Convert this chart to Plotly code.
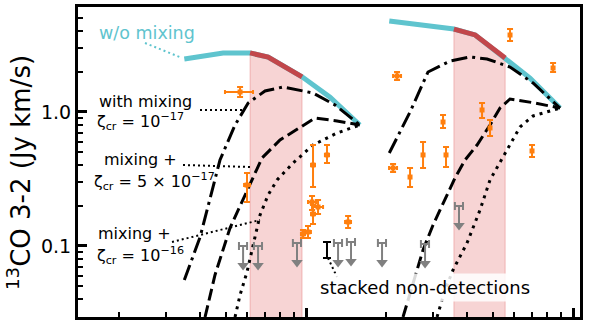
import numpy as np
import plotly.graph_objects as go

# ---------------- data ----------------
# model without mixing (two model sets)
wo_left_x = [0.35, 0.489, 0.617, 0.721, 0.966, 1.23, 1.59]
wo_left_y = [2.49, 2.76, 2.76, 2.57, 1.83, 1.29, 0.80]
wo_right_x = [2.05, 3.58, 4.30, 5.57, 6.90, 8.94]
wo_right_y = [4.78, 4.16, 3.76, 2.53, 1.79, 1.07]

# shaded ranges (x)
band_left = [0.617, 0.966]
band_right = [3.58, 5.57]

# with mixing, zeta_cr = 1e-17 (dash-dot)
mix17_left_x = [0.35, 0.401, 0.476, 0.542, 0.607, 0.702, 0.820, 1.062, 1.284, 1.59]
mix17_left_y = [0.0558, 0.1167, 0.438, 0.800, 1.167, 1.434, 1.537, 1.386, 1.128, 0.80]
mix17_right_x = [2.05, 2.452, 2.863, 3.462, 4.114, 4.764, 5.808, 7.082, 8.94]
mix17_right_y = [0.494, 1.0, 1.988, 2.402, 2.573, 2.487, 2.167, 1.646, 1.07]

# mixing + zeta_cr = 5e-17 (dashed)
mix5_left_x = [0.4185, 0.456, 0.519, 0.601, 0.684, 0.799, 0.950, 1.081, 1.306, 1.59]
mix5_left_y = [0.0295, 0.0608, 0.1362, 0.2618, 0.4536, 0.618, 0.773, 0.902, 0.857, 0.80]
mix5_right_x = [2.308, 2.516, 2.743, 2.990, 3.316, 3.614, 3.940, 4.370, 4.888, 5.329, 5.808, 7.206, 8.94]
mix5_right_y = [0.0295, 0.053, 0.0934, 0.1434, 0.2204, 0.322, 0.438, 0.567, 0.80, 1.071, 1.250, 1.167, 1.07]

# mixing + zeta_cr = 1e-16 (dotted)
mix16_left_x = [0.542, 0.566, 0.601, 0.633, 0.6725, 0.721, 0.779, 0.894, 1.062, 1.306, 1.59]
mix16_left_y = [0.0295, 0.0431, 0.064, 0.1017, 0.1703, 0.2402, 0.311, 0.416, 0.567, 0.697, 0.80]
mix16_right_x = [3.095, 3.316, 3.553, 4.009, 4.484, 4.888, 5.468, 6.330, 7.082, 8.94]
mix16_right_y = [0.0295, 0.047, 0.0662, 0.1053, 0.1857, 0.311, 0.4615, 0.773, 0.934, 1.07]

# detections (orange)
det_x = [0.566, 0.601, 1.062, 1.198, 1.053, 1.109, 1.062, 1.017, 0.974, 1.437,
         2.192, 5.808, 8.419, 3.259, 4.563, 4.888, 7.021, 2.743, 3.344, 2.118, 2.452]
det_y = [1.410, 0.285, 0.402, 0.478, 0.213, 0.1954, 0.1733, 0.1272, 0.1229, 0.1511,
         1.857, 3.755, 2.130, 0.842, 1.035, 0.760, 0.512, 0.478, 0.478, 0.382, 0.327]
det_y_hi = [1.537, 0.351, 0.567, 0.567, 0.236, 0.2204, 0.2023, 0.141, 0.1316, 0.1675,
            1.988, 4.163, 2.321, 0.950, 1.167, 0.872, 0.567, 0.597, 0.548, 0.409, 0.382]
det_y_lo = [1.294, 0.213, 0.2756, 0.416, 0.1857, 0.1733, 0.1459, 0.1147, 0.1147, 0.1362,
            1.733, 3.388, 1.988, 0.760, 0.902, 0.662, 0.4615, 0.382, 0.389, 0.357, 0.2756]
det_x_lo = [0.497, 0.586, 1.044, 1.177, 1.017, 1.062, 1.044, 0.991, 0.957, 1.400,
            2.118, 5.808, 8.419, 3.259, 4.563, 4.888, 7.021, 2.743, 3.344, 2.046, 2.452]
det_x_hi = [0.633, 0.617, 1.080, 1.219, 1.090, 1.158, 1.080, 1.043, 0.991, 1.474,
            2.269, 5.808, 8.419, 3.259, 4.563, 4.888, 7.021, 2.743, 3.344, 2.192, 2.452]

# non-detections (upper limits, grey)
lim_x = [0.581, 0.661, 0.925, 1.318, 1.474, 1.926, 2.791, 3.741]
lim_y = [0.100, 0.100, 0.1053, 0.1053, 0.1071, 0.1053, 0.1035, 0.1988]

# stacked non-detections (black)
stack_x = [1.198]
stack_y = [0.0933]
stack_y_hi = [0.1071]
stack_y_lo = [0.0813]

# axis ticks
y_major = [0.1, 1.0]
y_major_text = ["0.1", "1.0"]
y_minor = [0.03, 0.04, 0.05, 0.06, 0.07, 0.08, 0.09,
           0.2, 0.3, 0.4, 0.5, 0.6, 0.7, 0.8, 0.9, 2, 3, 4, 5, 6]
x_major = [1, 10]
x_minor = [0.2, 0.3, 0.4, 0.5, 0.6, 0.7, 0.8, 0.9, 2, 3, 4, 5, 6, 7, 8, 9]

# ---------------- style ----------------
FONT = "DejaVu Sans"
CYAN = "#5fc4ce"
RED = "#c2474b"
ORANGE = "#ff7f0e"
GREY = "#808080"
PINK = "rgba(214,39,40,0.2)"
Y_FLOOR = 0.01
ARROW = 1.40
LIM_XERR = 0.035

fig = go.Figure()


def seg(xs, ys, lo, hi):
    pts = [(x, y) for x, y in zip(xs, ys) if lo - 1e-9 <= x <= hi + 1e-9]
    return [p[0] for p in pts], [p[1] for p in pts]


# shaded bands under red segment
for xs, ys, band in [(wo_left_x, wo_left_y, band_left), (wo_right_x, wo_right_y, band_right)]:
    sx, sy = seg(xs, ys, band[0], band[1])
    fig.add_trace(go.Scatter(x=sx + [sx[-1], sx[0], sx[0]], y=sy + [Y_FLOOR, Y_FLOOR, sy[0]],
                             mode="lines", fill="toself", fillcolor=PINK,
                             line=dict(color="rgba(214,39,40,0.25)", width=1), hoverinfo="skip"))

# w/o mixing curves
for xs, ys, band in [(wo_left_x, wo_left_y, band_left), (wo_right_x, wo_right_y, band_right)]:
    fig.add_trace(go.Scatter(x=xs, y=ys, mode="lines", line=dict(color=CYAN, width=5)))
    sx, sy = seg(xs, ys, band[0], band[1])
    fig.add_trace(go.Scatter(x=sx, y=sy, mode="lines", line=dict(color=RED, width=5)))

# mixing curves
for xs, ys, dash in [(mix17_left_x, mix17_left_y, "16px,5px,3px,5px"),
                     (mix17_right_x, mix17_right_y, "16px,5px,3px,5px"),
                     (mix5_left_x, mix5_left_y, "12px,5px"),
                     (mix5_right_x, mix5_right_y, "12px,5px"),
                     (mix16_left_x, mix16_left_y, "3px,5px"),
                     (mix16_right_x, mix16_right_y, "3px,5px")]:
    fig.add_trace(go.Scatter(x=xs, y=ys, mode="lines", line=dict(color="black", width=3, dash=dash)))

# detections
dx = np.array(det_x); dy = np.array(det_y)
fig.add_trace(go.Scatter(
    x=det_x, y=det_y, mode="markers",
    marker=dict(symbol="square", size=5, color=ORANGE),
    error_y=dict(type="data", array=np.array(det_y_hi) - dy, arrayminus=dy - np.array(det_y_lo),
                 color=ORANGE, thickness=2, width=3),
    error_x=dict(type="data", array=np.array(det_x_hi) - dx, arrayminus=dx - np.array(det_x_lo),
                 color=ORANGE, thickness=2, width=2)))

# upper limits: x-bar at value, shaft and downward head
lx = np.array(lim_x); ly = np.array(lim_y)
shaft_x, shaft_y = [], []
for x, y in zip(lim_x, lim_y):
    shaft_x += [x, x, None]
    shaft_y += [y, y / ARROW, None]
fig.add_trace(go.Scatter(x=shaft_x, y=shaft_y, mode="lines", line=dict(color=GREY, width=2)))
fig.add_trace(go.Scatter(x=lim_x, y=ly / ARROW, mode="markers",
                         marker=dict(symbol="triangle-down", size=10, color=GREY)))
fig.add_trace(go.Scatter(x=lim_x, y=lim_y, mode="markers", marker=dict(size=1, color=GREY),
                         error_x=dict(type="data", array=lx * LIM_XERR, arrayminus=lx * LIM_XERR,
                                      color=GREY, thickness=2, width=4)))

# stacked non-detection
sy_ = np.array(stack_y)
fig.add_trace(go.Scatter(x=stack_x, y=stack_y, mode="markers", marker=dict(size=1, color="black"),
                         error_y=dict(type="data", array=np.array(stack_y_hi) - sy_,
                                      arrayminus=sy_ - np.array(stack_y_lo),
                                      color="black", thickness=2, width=4)))

# ---------------- annotations ----------------
def px2paper(px, py):
    return (px - 78) / 502, (317 - py) / 310


ann = []
def label(text, px, py, size=16, color="black", **kw):
    x, y = px2paper(px, py)
    ann.append(dict(text=text, x=x, y=y, xref="paper", yref="paper", showarrow=False,
                    xanchor="left", yanchor="middle", font=dict(family=FONT, size=size, color=color), **kw))

label("w/o mixing", 97, 33, size=17.5, color=CYAN)
label("with mixing", 97, 101)
label("ζ<sub>cr</sub> = 10<sup>−17</sup>", 95, 121)
label("mixing +", 102, 159)
label("ζ<sub>cr</sub> = 5 × 10<sup>−17</sup>", 92, 181)
label("mixing +", 96, 234)
label("ζ<sub>cr</sub> = 10<sup>−16</sup>", 95, 255)
label("stacked non-detections", 316, 287, size=18, bgcolor="rgba(255,255,255,0.85)", borderpad=3)

tx, ty = px2paper(19, 173)
ann.append(dict(text="<sup>13</sup>CO 3-2 (Jy km/s)", x=tx, y=ty, xref="paper", yref="paper",
                showarrow=False, textangle=-90, xanchor="center", yanchor="middle",
                font=dict(family=FONT, size=26, color="black")))

shapes = []
def pointer(p0, p1, color="black"):
    x0, y0 = px2paper(*p0); x1, y1 = px2paper(*p1)
    shapes.append(dict(type="line", xref="paper", yref="paper", x0=x0, y0=y0, x1=x1, y1=y1,
                       line=dict(color=color, width=2, dash="2px,3px")))

pointer((145, 43), (182, 58), CYAN)
pointer((200, 110), (243, 110))
pointer((183, 165), (250, 167))
pointer((172, 242), (260, 220))
pointer((328, 258), (337, 277))

fig.update_layout(width=598, height=320, margin=dict(l=78, r=18, t=7, b=3),
                  plot_bgcolor="white", paper_bgcolor="white", showlegend=False,
                  annotations=ann, shapes=shapes, font=dict(family=FONT, color="black"))

fig.update_xaxes(type="log", range=[np.log10(0.1399), np.log10(10.62)],
                 showline=True, linecolor="black", linewidth=3, mirror=True,
                 showgrid=False, zeroline=False, showticklabels=False,
                 ticks="inside", tickmode="array", tickvals=x_major, ticklen=9, tickwidth=2.5,
                 tickcolor="black",
                 minor=dict(ticks="inside", tickmode="array", tickvals=x_minor, ticklen=5,
                            tickwidth=2, tickcolor="black", showgrid=False))
fig.update_yaxes(type="log", range=[-1.530, 0.7836],
                 showline=True, linecolor="black", linewidth=3, mirror=True,
                 showgrid=False, zeroline=False,
                 ticks="inside", tickmode="array", tickvals=y_major, ticktext=y_major_text,
                 ticklen=9, tickwidth=2.5, tickcolor="black",
                 tickfont=dict(family=FONT, size=19, color="black"),
                 minor=dict(ticks="inside", tickmode="array", tickvals=y_minor, ticklen=5,
                            tickwidth=2, tickcolor="black", showgrid=False))

fig.write_html("out.html", config={"displayModeBar": False},
               post_script="document.body.style.margin='0';document.body.style.overflow='hidden';")
